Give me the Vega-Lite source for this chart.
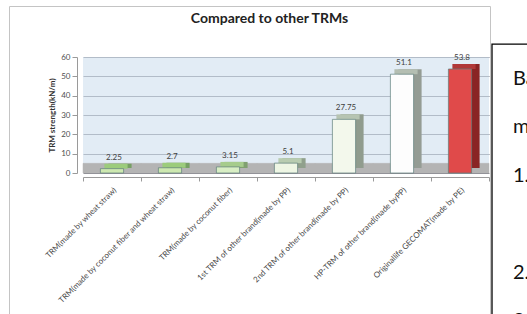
{
  "$schema": "https://vega.github.io/schema/vega-lite/v6.json",
  "padding": {"left": 8, "top": 5, "right": 0, "bottom": 0},
  "autosize": {"type": "pad"},
  "background": "white",
  "config": {
    "font": "Lato",
    "axis": {"labelFont": "Lato", "titleFont": "Lato"},
    "concat": {"spacing": 0}
  },
  "datasets": {
    "trm": [
      {"product": "TRM(made by wheat straw)", "strength": 2.25},
      {"product": "TRM(made by coconut fiber and wheat straw)", "strength": 2.7},
      {"product": "TRM(made by coconut fiber)", "strength": 3.15},
      {"product": "1st TRM of other brand(made by PP)", "strength": 5.1},
      {"product": "2nd TRM of other brand(made by PP)", "strength": 27.75},
      {"product": "HP-TRM of other brand(made byPP)", "strength": 51.1},
      {"product": "Originallife GECOMAT(made by PE)", "strength": 53.8}
    ],
    "note": [
      {"t": "Ba", "line": 0},
      {"t": "m", "line": 1},
      {"t": "1.", "line": 2},
      {"t": "2.", "line": 4},
      {"t": "3.", "line": 5}
    ]
  },
  "hconcat": [
    {
      "width": 481,
      "height": 312,
      "view": {"stroke": "#c4c4c4", "strokeWidth": 1, "fill": "white"},
      "title": {
        "text": "Compared to other TRMs",
        "fontSize": 14,
        "fontWeight": "bold",
        "font": "Lato",
        "color": "#222222",
        "offset": -20,
        "dx": 20,
        "anchor": "middle"
      },
      "data": {"name": "trm"},
      "resolve": {"scale": {"fill": "independent"}},
      "encoding": {
        "x": {
          "field": "product",
          "type": "nominal",
          "sort": null,
          "scale": {"range": [74, 480], "paddingInner": 0, "paddingOuter": 0},
          "axis": {
            "title": null,
            "orient": "bottom",
            "offset": -141,
            "labelAngle": -45,
            "labelAlign": "right",
            "labelBaseline": "top",
            "labelFontSize": 8,
            "labelColor": "#4a4a4a",
            "labelLimit": 260,
            "labelPadding": 5,
            "tickBand": "extent",
            "tickSize": 4,
            "tickColor": "#9a9a9a",
            "domainColor": "#9a9a9a",
            "grid": false
          }
        }
      },
      "layer": [
        {
          "mark": {"type": "bar", "width": {"band": 1}, "fill": "rgb(207,223,238)", "fillOpacity": 0.6, "strokeWidth": 0},
          "encoding": {
            "y": {"datum": 0, "type": "quantitative"},
            "y2": {"datum": 60}
          }
        },
        {
          "mark": {"type": "bar", "width": {"band": 1}, "fill": "#b4b4b4", "stroke": "#b4b4b4", "strokeWidth": 0.5},
          "encoding": {
            "y": {"datum": 0, "type": "quantitative"},
            "y2": {"datum": 5}
          }
        },
        {
          "mark": {"type": "bar", "width": {"band": 0.4}, "xOffset": 8, "yOffset": -5, "y2Offset": -5},
          "encoding": {
            "y": {"field": "strength", "type": "quantitative"},
            "fill": {
              "field": "product",
              "type": "nominal",
              "sort": null,
              "scale": {"range": ["#76a064", "#76a064", "#80a070", "#90a08c", "#909c8e", "#949c94", "#8a2424"]},
              "legend": null
            }
          }
        },
        {
          "mark": {"type": "bar", "width": {"band": 0.4}, "xOffset": 4, "yOffset": -5, "strokeWidth": 0},
          "encoding": {
            "y": {"field": "strength", "type": "quantitative"},
            "y2": {"field": "strength"},
            "fill": {
              "field": "product",
              "type": "nominal",
              "sort": null,
              "scale": {"range": ["#9ccc7c", "#9ccc7c", "#a6cc8c", "#b8ccb0", "#b6c4b2", "#b4beb2", "#b03838"]},
              "legend": null
            }
          }
        },
        {
          "mark": {"type": "bar", "width": {"band": 0.4}, "stroke": "#5f807c", "strokeWidth": 0.7},
          "encoding": {
            "y": {
              "field": "strength",
              "type": "quantitative",
              "scale": {"domain": [0, 60], "range": [167, 51], "nice": false},
              "axis": {
                "title": "TRM strength(kN/m)",
                "titleFontSize": 8,
                "titleFontWeight": "bold",
                "titleColor": "#333333",
                "titlePadding": 4,
                "offset": -68,
                "values": [0, 10, 20, 30, 40, 50, 60],
                "labelFontSize": 8,
                "labelColor": "#505050",
                "labelPadding": 2,
                "tickSize": 5,
                "tickColor": "#9a9a9a",
                "domainColor": "#9a9a9a",
                "grid": true,
                "gridColor": "#87878e",
                "gridWidth": 1
              }
            },
            "fill": {
              "field": "product",
              "type": "nominal",
              "sort": null,
              "scale": {"range": ["#cde8b0", "#cde8b0", "#d8eec4", "#eef6e4", "#f3f8ec", "#fdfdfd", "#e04a4a"]},
              "legend": null
            }
          }
        },
        {
          "mark": {"type": "text", "dy": -11, "dx": 2, "fontSize": 8, "color": "#404040", "baseline": "middle"},
          "encoding": {
            "y": {"field": "strength", "type": "quantitative"},
            "text": {"field": "strength", "type": "nominal"}
          }
        }
      ]
    },
    {
      "width": 60,
      "height": 312,
      "view": {"stroke": null},
      "layer": [
        {
          "data": {"values": [{}]},
          "mark": {"type": "rect", "fill": "white", "stroke": "#000000", "strokeWidth": 1.3},
          "encoding": {
            "y": {
              "datum": -0.72,
              "type": "quantitative",
              "scale": {"domain": [-1.505, 4.928], "reverse": true, "nice": false, "zero": false},
              "axis": null
            },
            "y2": {"datum": 7}
          }
        },
        {
          "data": {"name": "note"},
          "mark": {"type": "text", "align": "left", "baseline": "middle", "fontSize": 20, "font": "Lato", "color": "#111111", "dx": -9},
          "encoding": {
            "y": {"field": "line", "type": "quantitative"},
            "text": {"field": "t"}
          }
        }
      ]
    }
  ]
}
